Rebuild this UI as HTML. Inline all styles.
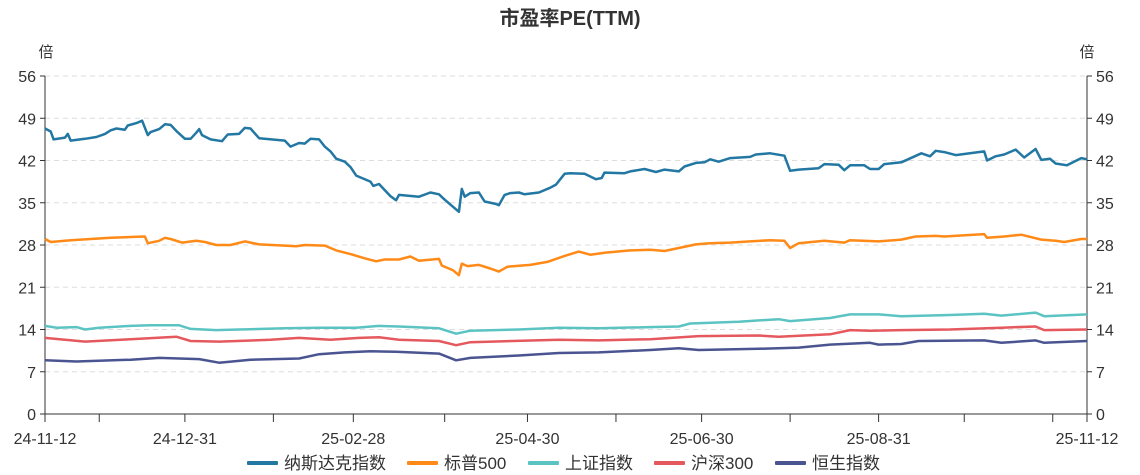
<!DOCTYPE html>
<html><head><meta charset="utf-8">
<style>
body{margin:0;background:#fff;}
svg{display:block;font-family:"Liberation Sans","Noto Sans CJK SC",sans-serif;}
</style></head>
<body>
<svg id="chart" width="1140" height="475" viewBox="0 0 1140 475" xmlns="http://www.w3.org/2000/svg">
<text x="570" y="25" text-anchor="middle" font-size="20" font-weight="bold" fill="#333">市盈率PE(TTM)</text>
<text x="46" y="57" text-anchor="middle" font-size="15" fill="#333">倍</text>
<text x="1087" y="57" text-anchor="middle" font-size="15" fill="#333">倍</text>
<g id="grid"></g><g id="axes"></g><g id="series"></g><g id="legend"></g>
</svg>
<script>
const yTicks=[0,7,14,21,28,35,42,49,56];
const xLabelDays=[0,49,108,169,230,292,365];
const xLabels=["24-11-12","24-12-31","25-02-28","25-04-30","25-06-30","25-08-31","25-11-12"];
const xMinorDays=[19,80,140,200,261,322,353];
const seriesNames=["纳斯达克指数","标普500","上证指数","沪深300","恒生指数"];
const nasdaqDays=[0,2,3,7,8,9,14,18,21,23,25,28,29,32,34,36,37,40,42,44,46,49,51,53,54,55,58,62,64,68,70,72,75,84,86,89,91,93,96,98,100,102,105,107,109,114,115,117,121,123,124,131,135,138,140,145,146,147,149,152,154,158,159,161,163,166,168,173,177,179,182,184,189,193,195,196,203,205,210,214,217,222,224,228,231,233,236,240,247,249,254,259,261,264,271,273,278,280,282,287,289,292,294,300,307,310,312,315,319,329,330,333,336,340,343,347,349,352,354,358,363,365];
const nasdaqVals=[47.3,46.8,45.5,45.8,46.4,45.3,45.6,45.9,46.4,47.0,47.3,47.1,47.8,48.2,48.6,46.2,46.7,47.2,48.0,47.9,46.9,45.6,45.6,46.6,47.2,46.2,45.5,45.2,46.3,46.4,47.4,47.3,45.7,45.3,44.3,44.9,44.8,45.6,45.5,44.3,43.5,42.3,41.8,40.9,39.5,38.5,37.8,38.1,36.1,35.4,36.3,36.0,36.7,36.4,35.5,33.5,37.3,36.0,36.6,36.7,35.2,34.8,34.6,36.3,36.6,36.7,36.4,36.7,37.5,38.0,39.8,39.9,39.8,38.9,39.1,40.0,39.9,40.2,40.6,40.1,40.5,40.2,41.0,41.6,41.7,42.2,41.8,42.4,42.6,43.0,43.2,42.8,40.3,40.5,40.7,41.4,41.3,40.4,41.2,41.2,40.6,40.6,41.4,41.7,43.2,42.7,43.6,43.4,42.9,43.5,42.0,42.7,43.0,43.8,42.5,43.9,42.1,42.3,41.5,41.2,42.4,42.2];
const spDays=[0,2,9,16,23,28,35,36,40,42,44,48,53,56,60,65,70,75,84,88,91,98,102,107,112,116,119,124,128,131,138,139,143,145,146,148,152,156,159,162,170,176,179,182,187,191,196,205,212,217,222,228,233,240,247,254,259,261,264,273,280,282,292,300,305,312,315,329,330,336,342,349,354,357,363,365];
const spVals=[29.0,28.5,28.8,29.0,29.2,29.3,29.4,28.3,28.7,29.2,29.0,28.4,28.7,28.5,28.0,28.0,28.6,28.1,27.9,27.8,28.0,27.9,27.1,26.5,25.8,25.3,25.6,25.6,26.1,25.4,25.7,24.6,23.8,23.0,24.9,24.5,24.7,24.1,23.6,24.4,24.7,25.2,25.7,26.2,26.9,26.4,26.7,27.1,27.2,27.0,27.5,28.1,28.3,28.4,28.6,28.8,28.7,27.5,28.3,28.7,28.4,28.8,28.6,28.9,29.4,29.5,29.4,29.8,29.2,29.4,29.7,28.9,28.7,28.5,29.0,29.0];
const shDays=[0,4,11,14,19,30,37,47,51,60,68,84,96,109,117,124,138,144,149,166,180,194,212,222,226,243,257,261,275,282,292,300,317,329,335,347,350,365];
const shVals=[14.6,14.3,14.4,14.0,14.3,14.6,14.7,14.7,14.1,13.9,14.0,14.2,14.3,14.3,14.6,14.5,14.2,13.3,13.8,14.0,14.3,14.2,14.4,14.5,15.0,15.3,15.7,15.4,15.9,16.5,16.5,16.2,16.4,16.6,16.3,16.8,16.2,16.5];
const hsDays=[0,14,30,46,51,61,79,89,100,110,117,124,138,144,149,180,194,212,229,250,257,275,282,289,300,317,335,347,350,365];
const hsVals=[12.6,12.0,12.4,12.8,12.1,12.0,12.3,12.6,12.3,12.6,12.7,12.3,12.1,11.4,11.9,12.3,12.2,12.4,12.9,13.0,12.8,13.2,13.9,13.8,13.9,14.0,14.3,14.5,13.9,14.0];
const hsiDays=[0,11,30,40,54,61,72,89,96,105,114,123,138,144,149,166,180,194,212,222,229,250,264,275,289,292,300,306,329,335,347,350,365];
const hsiVals=[8.9,8.7,9.0,9.3,9.1,8.5,9.0,9.2,9.9,10.2,10.4,10.3,10.0,8.9,9.3,9.7,10.1,10.2,10.6,10.9,10.6,10.8,11.0,11.5,11.8,11.5,11.6,12.1,12.2,11.8,12.2,11.8,12.1];

const NS='http://www.w3.org/2000/svg';
const L=45,R=1087,T=76,B=414;
const x=d=>L+(d/365)*(R-L);
const y=v=>B-(v/56)*(B-T);
function mk(tag,attrs,parent){const e=document.createElementNS(NS,tag);for(const k in attrs)e.setAttribute(k,attrs[k]);parent.appendChild(e);return e;}
const grid=document.getElementById('grid'),axes=document.getElementById('axes'),ser=document.getElementById('series'),leg=document.getElementById('legend');
yTicks.forEach(v=>{
  if(v>0){const g=mk('line',{x1:L,x2:R,y1:y(v),y2:y(v),stroke:'#ddd','stroke-dasharray':'5,4'},grid);
  
  }
  const t1=mk('line',{x1:L-5,x2:L,y1:y(v),y2:y(v),stroke:'#333'},axes);
  
  
  const t2=mk('line',{x1:R,x2:R+5,y1:y(v),y2:y(v),stroke:'#333'},axes);
  
  
  const a=mk('text',{x:L-9,y:y(v)+6,'text-anchor':'end','font-size':16,fill:'#333'},axes);a.textContent=v;
  
  
  const b=mk('text',{x:R+9,y:y(v)+6,'text-anchor':'start','font-size':16,fill:'#333'},axes);b.textContent=v;
  
  
});
const la=mk('line',{x1:L,x2:L,y1:T,y2:B,stroke:'#333'},axes);


const ra=mk('line',{x1:R,x2:R,y1:T,y2:B,stroke:'#333'},axes);


const xa=mk('line',{x1:L,x2:R,y1:B,y2:B,stroke:'#333'},axes);


xLabelDays.forEach((d,i)=>{
  const t=mk('line',{x1:x(d),x2:x(d),y1:B,y2:B+8,stroke:'#333'},axes);
  
  
  const l=mk('text',{x:x(d),y:B+30,'text-anchor':'middle','font-size':16,fill:'#333'},axes);l.textContent=xLabels[i];
  
  
});
xMinorDays.forEach(d=>{
  const t=mk('line',{x1:x(d),x2:x(d),y1:B,y2:B+8,stroke:'#333'},axes);
  
  
});
const colors=['#2277a3','#ff8a17','#5bc4c3','#e5585e','#4a5491'];
const allDays=[nasdaqDays,spDays,shDays,hsDays,hsiDays];
const allVals=[nasdaqVals,spVals,shVals,hsVals,hsiVals];
const sNames=['nasdaq-line','sp500-line','shanghai-line','csi300-line','hang-seng-line'];
allDays.forEach((ds,i)=>{
  const p=ds.map((d,j)=>(j?'L':'M')+x(d).toFixed(1)+','+y(allVals[i][j]).toFixed(1)).join('');
  const path=mk('path',{d:p,fill:'none',stroke:colors[i],'stroke-width':2.5,'stroke-linejoin':'round'},ser);
  
  
});
const legX=[247,407,528,654,775];
seriesNames.forEach((n,i)=>{
  const g=mk('g',{},leg);
  
  
  mk('rect',{x:legX[i],y:461,width:31,height:4,fill:colors[i],rx:1},g);
  const t=mk('text',{x:legX[i]+37,y:469,'font-size':17,fill:'#333'},g);t.textContent=n;
});
</script>
</body></html>
